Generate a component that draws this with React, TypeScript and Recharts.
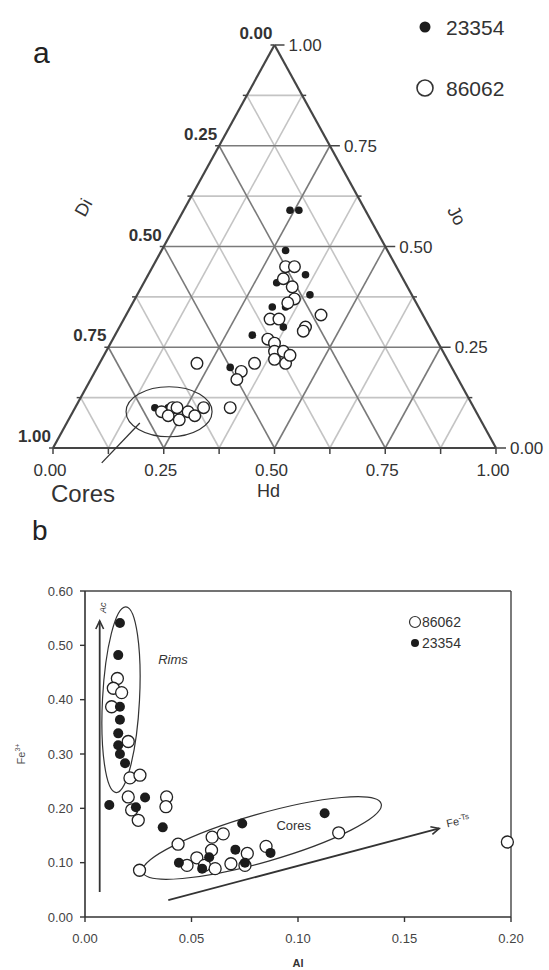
import React from 'react';
import { ScatterChart, Scatter, XAxis, YAxis, ReferenceLine, ReferenceDot } from 'recharts';

// ---------- Panel a: ternary Di–Hd–Jo (stored as [Hd, Jo]; Di = 1 - Hd - Jo) ----------
const tern23354: [number, number][] = [
  [0.24, 0.59], [0.26, 0.59], [0.28, 0.49], [0.355, 0.43], [0.30, 0.41], [0.39, 0.38],
  [0.32, 0.35], [0.35, 0.35], [0.31, 0.28], [0.37, 0.30], [0.30, 0.20], [0.33, 0.17],
  [0.21, 0.10], [0.18, 0.10],
];
const tern86062: [number, number][] = [
  [0.30, 0.45], [0.32, 0.45], [0.34, 0.40], [0.31, 0.42], [0.36, 0.37], [0.35, 0.36],
  [0.33, 0.32], [0.35, 0.32], [0.44, 0.33], [0.42, 0.30], [0.42, 0.29], [0.35, 0.27],
  [0.37, 0.26], [0.38, 0.24], [0.40, 0.24], [0.39, 0.22], [0.42, 0.21], [0.42, 0.23],
  [0.33, 0.19], [0.35, 0.21], [0.22, 0.21], [0.33, 0.17], [0.35, 0.10],
  [0.20, 0.09], [0.22, 0.10], [0.25, 0.07], [0.26, 0.09], [0.28, 0.08], [0.29, 0.10],
  [0.22, 0.08], [0.23, 0.10],
];
const ternMajor = [0.25, 0.5, 0.75];
const ternMinor = [0.125, 0.375, 0.625, 0.875];
const ternTicks = [0, 0.125, 0.25, 0.375, 0.5, 0.625, 0.75, 0.875, 1];
const ternLabels = [0, 0.25, 0.5, 0.75, 1];

// ---------- Panel b: Fe3+ vs Al ----------
const al86062 = [0.0152, 0.0133, 0.0172, 0.0125, 0.0203, 0.0211, 0.0258, 0.0203, 0.0219, 0.0250, 0.0383, 0.0380,
  0.0256, 0.0437, 0.0479, 0.0525, 0.0597, 0.0649, 0.0594, 0.0561, 0.0611, 0.0685, 0.0762, 0.0751, 0.0850, 0.1191, 0.1983];
const fe86062 = [0.439, 0.421, 0.413, 0.387, 0.323, 0.256, 0.261, 0.221, 0.197, 0.178, 0.221, 0.203,
  0.086, 0.134, 0.095, 0.109, 0.147, 0.153, 0.123, 0.095, 0.089, 0.098, 0.117, 0.095, 0.130, 0.155, 0.138];
const al23354 = [0.0164, 0.0156, 0.0164, 0.0164, 0.0156, 0.0156, 0.0164, 0.0188, 0.0114, 0.0239, 0.0282, 0.0365,
  0.0441, 0.0550, 0.0583, 0.0706, 0.0738, 0.0751, 0.0871, 0.1125];
const fe23354 = [0.541, 0.482, 0.387, 0.363, 0.338, 0.316, 0.300, 0.283, 0.206, 0.202, 0.220, 0.165,
  0.100, 0.089, 0.110, 0.124, 0.172, 0.100, 0.118, 0.191];
const alTicks = [0, 0.05, 0.1, 0.15, 0.2];
const feTicks = [0, 0.1, 0.2, 0.3, 0.4, 0.5, 0.6];

const FONT = '"Liberation Sans", Arial, sans-serif';

const toCart = (pts: [number, number][]) => pts.map(([hd, jo]) => ({ x: hd + jo / 2, y: jo }));
const dataA23354 = toCart(tern23354);
const dataA86062 = toCart(tern86062);
const dataB86062 = al86062.map((x, i) => ({ x, y: fe86062[i] }));
const dataB23354 = al23354.map((x, i) => ({ x, y: fe23354[i] }));

const openCircle = (r: number, sw = 1.3) => (p: any) => (
  <circle cx={p.cx} cy={p.cy} r={r} fill="#fff" stroke="#222" strokeWidth={sw} />
);
const filledCircle = (r: number) => (p: any) => <circle cx={p.cx} cy={p.cy} r={r} fill="#1c1c1c" />;

const textShape = (text: React.ReactNode, dx: number, dy: number, style: any = {}, rot = 0) => (p: any) => {
  const x = p.cx + dx;
  const y = p.cy + dy;
  return (
    <text x={x} y={y} fontFamily={FONT} fill="#333" transform={rot ? `rotate(${rot} ${x} ${y})` : undefined} {...style}>
      {text}
    </text>
  );
};
const tickShape = (dx: number, dy: number, color = '#444') => (p: any) => (
  <line x1={p.cx} y1={p.cy} x2={p.cx + dx} y2={p.cy + dy} stroke={color} strokeWidth={1.5} />
);
const ellipseShape = (rx: number, ry: number, rot: number) => (p: any) => (
  <ellipse cx={p.cx} cy={p.cy} rx={rx} ry={ry} fill="none" stroke="#333" strokeWidth={1.2}
    transform={`rotate(${rot} ${p.cx} ${p.cy})`} />
);
const arrowShape = (p: any) => {
  const { x1, y1, x2, y2 } = p;
  const ang = Math.atan2(y2 - y1, x2 - x1);
  const L = 9;
  const s = 0.45;
  const a1 = [x2 - L * Math.cos(ang - s), y2 - L * Math.sin(ang - s)];
  const a2 = [x2 - L * Math.cos(ang + s), y2 - L * Math.sin(ang + s)];
  return (
    <g>
      <line x1={x1} y1={y1} x2={x2} y2={y2} stroke="#333" strokeWidth={1.8} />
      <polyline points={`${a1[0]},${a1[1]} ${x2},${y2} ${a2[0]},${a2[1]}`} fill="none" stroke="#333" strokeWidth={1.6} />
    </g>
  );
};

const gridSegs = (v: number) => [
  [{ x: v / 2, y: v }, { x: 1 - v / 2, y: v }],
  [{ x: v, y: 0 }, { x: v + (1 - v) / 2, y: 1 - v }],
  [{ x: 1 - v, y: 0 }, { x: (1 - v) / 2, y: 1 - v }],
];
const edges = [
  [{ x: 0, y: 0 }, { x: 1, y: 0 }],
  [{ x: 0, y: 0 }, { x: 0.5, y: 1 }],
  [{ x: 1, y: 0 }, { x: 0.5, y: 1 }],
];
const fmt = (v: number) => v.toFixed(2);

function TernaryChart() {
  return (
    <ScatterChart width={549} height={520} margin={{ top: 45, right: 53, bottom: 72, left: 53 }}>
      <XAxis type="number" dataKey="x" domain={[0, 1]} hide height={0} />
      <YAxis type="number" dataKey="y" domain={[0, 1]} hide width={0} />
      {ternMinor.flatMap((v) =>
        gridSegs(v).map((seg, i) => (
          <ReferenceLine key={`mn${v}-${i}`} segment={seg} stroke="#c4c4c4" strokeWidth={1.6} ifOverflow="visible" />
        ))
      )}
      {ternMajor.flatMap((v) =>
        gridSegs(v).map((seg, i) => (
          <ReferenceLine key={`mj${v}-${i}`} segment={seg} stroke="#7a7a7a" strokeWidth={1.6} ifOverflow="visible" />
        ))
      )}
      {edges.map((seg, i) => (
        <ReferenceLine key={`e${i}`} segment={seg} stroke="#454545" strokeWidth={2.2} ifOverflow="visible" />
      ))}
      {ternTicks.map((v) => (
        <ReferenceDot key={`tb${v}`} x={v} y={0} ifOverflow="visible" shape={tickShape(0, 6)} />
      ))}
      {ternTicks.map((v) => (
        <ReferenceDot key={`tr${v}`} x={1 - v / 2} y={v} ifOverflow="visible"
          shape={tickShape(ternLabels.includes(v) ? 10 : 4, 0)} />
      ))}
      {ternTicks.map((v) => (
        <ReferenceDot key={`tl${v}`} x={v / 2} y={v} ifOverflow="visible" shape={tickShape(-4, 0)} />
      ))}
      {ternLabels.map((v) => (
        <ReferenceDot key={`lb${v}`} x={v} y={0} ifOverflow="visible"
          shape={textShape(fmt(v), -3, 28, { fontSize: 17, textAnchor: 'middle' })} />
      ))}
      {ternLabels.map((v) => (
        <ReferenceDot key={`lr${v}`} x={1 - v / 2} y={v} ifOverflow="visible"
          shape={textShape(fmt(v), 14, 6, { fontSize: 17, textAnchor: 'start' })} />
      ))}
      {ternLabels.map((v) => (
        <ReferenceDot key={`ll${v}`} x={v / 2} y={v} ifOverflow="visible"
          shape={textShape(fmt(1 - v), -2, -6, { fontSize: 17, fontWeight: 'bold', textAnchor: 'end' })} />
      ))}
      <ReferenceDot x={0.25} y={0.5} ifOverflow="visible"
        shape={textShape('Di', -75, -36, { fontSize: 18, textAnchor: 'middle' }, -61)} />
      <ReferenceDot x={0.75} y={0.5} ifOverflow="visible"
        shape={textShape('Jo', 66, -28, { fontSize: 18, textAnchor: 'middle' }, 61)} />
      <ReferenceDot x={0.5} y={0} ifOverflow="visible"
        shape={textShape('Hd', -6, 49, { fontSize: 18, textAnchor: 'middle' })} />
      <ReferenceDot x={0.262} y={0.09} ifOverflow="visible" shape={ellipseShape(43, 25, 0)} />
      <ReferenceLine segment={[{ x: 0.11, y: -0.037 }, { x: 0.196, y: 0.062 }]} stroke="#333" strokeWidth={1.3} ifOverflow="visible" />
      <ReferenceDot x={0} y={0} ifOverflow="visible"
        shape={textShape('Cores', -2, 54, { fontSize: 24, textAnchor: 'start' })} />
      <Scatter name="23354" data={dataA23354} isAnimationActive={false} shape={filledCircle(3.8)} />
      <Scatter name="86062" data={dataA86062} isAnimationActive={false} shape={openCircle(5.8, 1.4)} />
    </ScatterChart>
  );
}

function AlFeChart() {
  const tickStyle = { fontSize: 13, fill: '#444', fontFamily: FONT };
  return (
    <ScatterChart width={549} height={470} margin={{ top: 91, right: 38, bottom: 23, left: 40 }}>
      <XAxis type="number" dataKey="x" domain={[0, 0.2]} ticks={alTicks} tickFormatter={fmt}
        axisLine={{ stroke: '#333', strokeWidth: 1.6 }} tickLine={{ stroke: '#333', strokeWidth: 1.4 }}
        tickSize={5} tickMargin={12} tick={tickStyle} height={30} />
      <YAxis type="number" dataKey="y" domain={[0, 0.6]} ticks={feTicks} tickFormatter={fmt}
        axisLine={{ stroke: '#333', strokeWidth: 1.6 }} tickLine={{ stroke: '#333', strokeWidth: 1.4 }}
        tickSize={5} tickMargin={7} tick={tickStyle} width={45} />
      <ReferenceLine y={0.6} stroke="#444" strokeWidth={1.4} ifOverflow="visible" />
      <ReferenceLine x={0.2} stroke="#444" strokeWidth={1.4} ifOverflow="visible" />
      <ReferenceDot x={0.0169} y={0.4} ifOverflow="visible" shape={ellipseShape(18.5, 93, 3)} />
      <ReferenceDot x={0.0831} y={0.1454} ifOverflow="visible" shape={ellipseShape(124, 24, -16)} />
      <ReferenceLine segment={[{ x: 0.0069, y: 0.046 }, { x: 0.0069, y: 0.545 }]} ifOverflow="visible" shape={arrowShape} />
      <ReferenceLine segment={[{ x: 0.0391, y: 0.031 }, { x: 0.1663, y: 0.163 }]} ifOverflow="visible" shape={arrowShape} />
      <ReferenceDot x={0.0085} y={0.569} ifOverflow="visible"
        shape={textShape('Ac', 3, 0, { fontSize: 9, fontStyle: 'italic', textAnchor: 'middle' }, -90)} />
      <ReferenceDot x={0.0413} y={0.475} ifOverflow="visible"
        shape={textShape('Rims', 0, 5, { fontSize: 13, fontStyle: 'italic', textAnchor: 'middle' })} />
      <ReferenceDot x={0.098} y={0.169} ifOverflow="visible"
        shape={textShape('Cores', 0, 5, { fontSize: 13, textAnchor: 'middle' })} />
      <ReferenceDot x={0.1663} y={0.163} ifOverflow="visible"
        shape={textShape(<>
          <tspan>Fe</tspan><tspan dy={-4} fontSize={8}>-Ts</tspan>
        </>, 8, -1, { fontSize: 11, textAnchor: 'start' }, -12)} />
      <ReferenceDot x={0.1} y={0} ifOverflow="visible"
        shape={textShape('Al', 0, 50, { fontSize: 11, fontWeight: 'bold', textAnchor: 'middle' })} />
      <ReferenceDot x={0} y={0.3} ifOverflow="visible"
        shape={textShape(<>
          <tspan>Fe</tspan><tspan dy={-5} fontSize={7}>3+</tspan>
        </>, -60, 0, { fontSize: 11, textAnchor: 'middle', fill: '#555' }, -90)} />
      <Scatter name="86062" data={dataB86062} isAnimationActive={false} shape={openCircle(6, 1.3)} />
      <Scatter name="23354" data={dataB23354} isAnimationActive={false} shape={filledCircle(5)} />
    </ScatterChart>
  );
}

const legendText: React.CSSProperties = { position: 'absolute', fontFamily: FONT, color: '#333' };

export default function App() {
  return (
    <div style={{ position: 'absolute', top: 0, left: 0, width: 549, height: 970, background: '#fff', overflow: 'hidden' }}>
      <div style={{ position: 'absolute', top: 0, left: 0 }}>
        <TernaryChart />
      </div>
      <div style={{ position: 'absolute', top: 500, left: 0 }}>
        <AlFeChart />
      </div>
      {/* panel letters */}
      <div style={{ ...legendText, left: 33, top: 38, fontSize: 30, lineHeight: '30px', color: '#222' }}>a</div>
      <div style={{ ...legendText, left: 32, top: 517, fontSize: 28, lineHeight: '28px', color: '#222' }}>b</div>
      {/* legend a */}
      <svg style={{ position: 'absolute', left: 0, top: 0 }} width={549} height={120}>
        <circle cx={425} cy={27} r={5.5} fill="#1c1c1c" />
        <circle cx={425} cy={88} r={8} fill="#fff" stroke="#333" strokeWidth={1.6} />
        <text x={446} y={35} fontFamily={FONT} fontSize={21} fill="#333">23354</text>
        <text x={446} y={96} fontFamily={FONT} fontSize={21} fill="#333">86062</text>
      </svg>
      {/* legend b */}
      <svg style={{ position: 'absolute', left: 380, top: 600 }} width={120} height={60}>
        <circle cx={35} cy={22} r={5.5} fill="#fff" stroke="#333" strokeWidth={1.2} />
        <circle cx={35} cy={43} r={4} fill="#1c1c1c" />
        <text x={42} y={27} fontFamily={FONT} fontSize={14} fill="#333">86062</text>
        <text x={42} y={48} fontFamily={FONT} fontSize={14} fill="#333">23354</text>
      </svg>
    </div>
  );
}
